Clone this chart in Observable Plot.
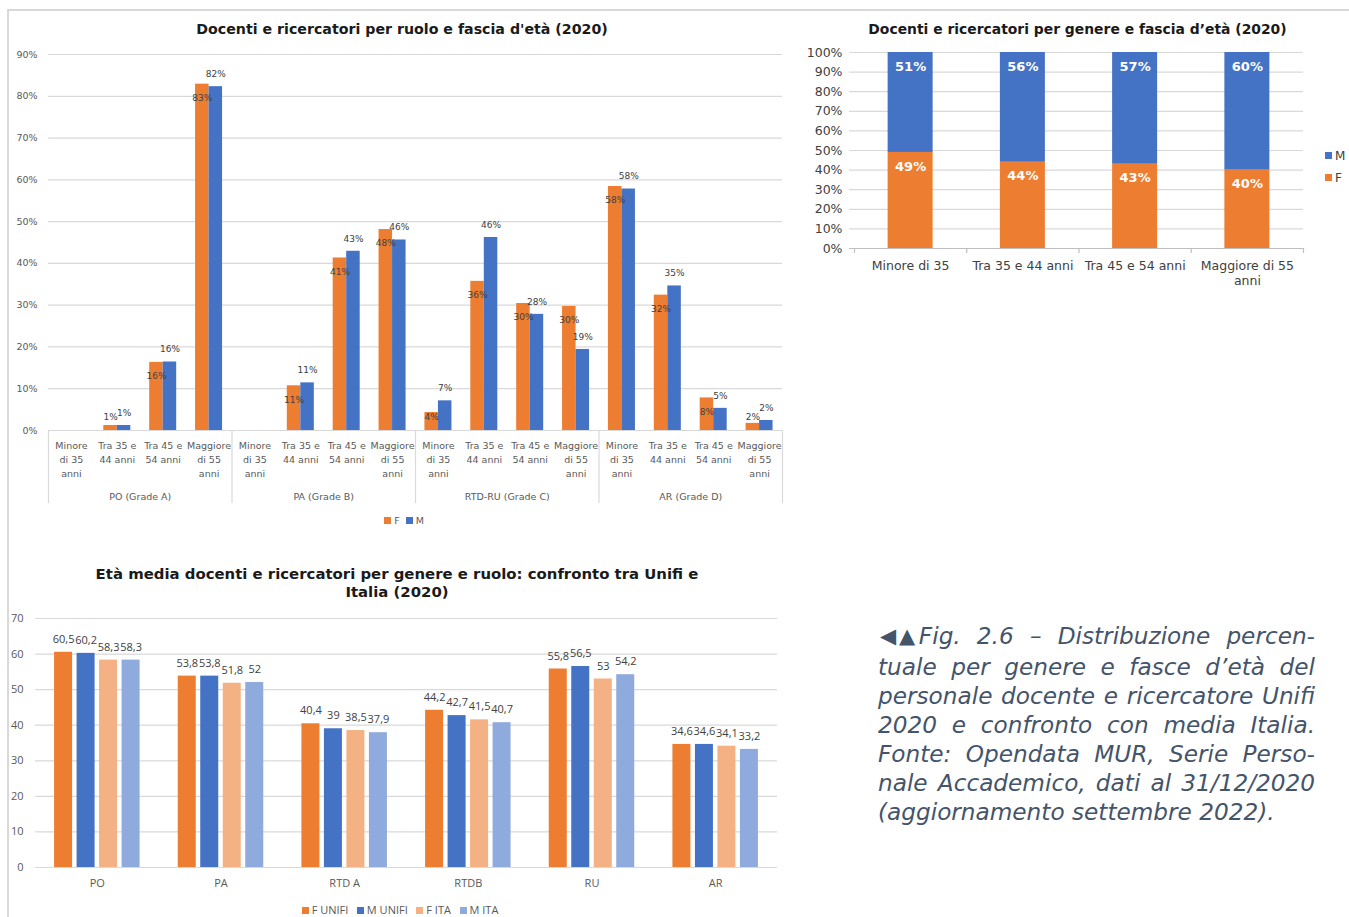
<!DOCTYPE html>
<html><head><meta charset="utf-8">
<script src="https://cdn.jsdelivr.net/npm/d3@7"></script>
<script src="https://cdn.jsdelivr.net/npm/@observablehq/plot@0.6"></script>
<style>
body{margin:0;background:#fff;font-family:"DejaVu Sans",sans-serif;}
#page{position:relative;width:1349px;height:917px;overflow:hidden;background:#fff;}
.abs{position:absolute;}
.title{font-family:"DejaVu Sans";font-weight:bold;color:#1a1a1a;text-align:center;white-space:nowrap;}
.leg{font-family:"DejaVu Sans";color:#595959;white-space:nowrap;}
.sq{display:inline-block;width:7px;height:7px;margin-right:3px;vertical-align:middle;position:relative;top:-1px;}
.cap{font-family:"DejaVu Sans";font-style:italic;color:#44546A;font-size:23.2px;line-height:29px;width:437px;}
.cap div{text-align:justify;text-align-last:justify;white-space:nowrap;}
.cap div.last{text-align-last:left;}
.arr{font-style:normal;font-size:21px;letter-spacing:-6px;position:relative;top:-1px;margin-left:2px;margin-right:1px;}
svg{overflow:visible;}
</style></head><body><div id="page">
<div class="abs" style="left:7px;top:9px;width:1342px;height:2px;background:#d9d9d9"></div>
<div class="abs" style="left:7px;top:9px;width:2px;height:908px;background:#d9d9d9"></div>
<div class="abs title" style="left:0;top:20px;width:804px;font-size:14.2px;line-height:18px">Docenti e ricercatori per ruolo e fascia d'età (2020)</div>
<div class="abs title" style="left:805px;top:20px;width:545px;font-size:13.9px;line-height:18px">Docenti e ricercatori per genere e fascia d’età (2020)</div>
<div class="abs title" style="left:0;top:565px;width:794px;font-size:14.9px;line-height:18px">Età media docenti e ricercatori per genere e ruolo: confronto tra Unifi e<br>Italia (2020)</div>
<div id="c1" class="abs" style="left:0;top:40px;width:790px"></div>
<div id="c2" class="abs" style="left:790px;top:40px;width:559px"></div>
<div id="c3" class="abs" style="left:0;top:605px;width:790px"></div>
<div id="leg1" class="abs leg" style="left:0;top:514px;width:808px;text-align:center;font-size:9.5px;line-height:14px"></div>
<div id="leg2" class="abs leg" style="left:1325px;top:145px;font-size:12px;line-height:22px;color:#404040"></div>
<div id="leg3" class="abs leg" style="left:0;top:902px;width:800px;text-align:center;font-size:11px;line-height:15px;font-family:'Open Sans'"></div>
<div class="abs cap" style="left:878px;top:621px">
<div><span class="arr">◀▲</span>Fig. 2.6 – Distribuzione percen-</div>
<div>tuale per genere e fasce d’età del</div>
<div>personale docente e ricercatore Unifi</div>
<div>2020 e confronto con media Italia.</div>
<div>Fonte: Opendata MUR, Serie Perso-</div>
<div>nale Accademico, dati al 31/12/2020</div>
<div class="last">(aggiornamento settembre 2022).</div>
</div>
</div>
<script>
// ---------- DATA ----------
// Chart 1: per ruolo e fascia d'età (% within role)
const roles1 = ["PO (Grade A)", "PA (Grade B)", "RTD-RU (Grade C)", "AR (Grade D)"];
const ages1 = ["Minore\ndi 35\nanni", "Tra 35 e\n44 anni", "Tra 45 e\n54 anni", "Maggiore\ndi 55\nanni"];
const roleF = [0, 1.2, 16.3, 82.9, 0, 10.7, 41.3, 48.1, 4.3, 35.7, 30.4, 29.7, 58.4, 32.4, 7.8, 1.7];
const roleM = [0, 1.2, 16.4, 82.3, 0, 11.4, 42.9, 45.6, 7.1, 46.2, 27.8, 19.4, 57.8, 34.6, 5.3, 2.4];
const yTicks1 = [0, 10, 20, 30, 40, 50, 60, 70, 80, 90];

// Chart 2: per genere e fascia d'età (stacked 100%)
const ages2 = ["Minore di 35", "Tra 35 e 44 anni", "Tra 45 e 54 anni", "Maggiore di 55\nanni"];
const genderF2 = [49, 44, 43, 40];
const genderM2 = [51, 56, 57, 60];
const yTicks2 = [0, 10, 20, 30, 40, 50, 60, 70, 80, 90, 100];

// Chart 3: età media
const roles3 = ["PO", "PA", "RTD A", "RTDB", "RU", "AR"];
const series3 = ["F UNIFI", "M UNIFI", "F ITA", "M ITA"];
const fUnifi = [60.5, 53.8, 40.4, 44.2, 55.8, 34.6];
const mUnifi = [60.2, 53.8, 39, 42.7, 56.5, 34.6];
const fIta = [58.3, 51.8, 38.5, 41.5, 53, 34.1];
const mIta = [58.3, 52, 37.9, 40.7, 54.2, 33.2];
const yTicks3 = [0, 10, 20, 30, 40, 50, 60, 70];

// ---------- STYLE ----------
const orange = "#ED7D31", blue = "#4472C4", lOrange = "#F4B183", lBlue = "#8FAADC";
const grid = "#d9d9d9";

// ---------- CHART 1 ----------
const rows1 = [];
roles1.forEach((r, i) => ages1.forEach((a, j) => rows1.push({key: i * 4 + j, role: r, age: a, F: roleF[i * 4 + j], M: roleM[i * 4 + j]})));
const keys1 = rows1.map(d => d.key);
const w1 = 790, ml1 = 48, mr1 = 8;
const bw1 = (w1 - ml1 - mr1) / keys1.length, half1 = bw1 / 2, barW1 = 13.5;
const chart1 = Plot.plot({
  width: w1, height: 470, marginLeft: ml1, marginRight: mr1, marginTop: 14, marginBottom: 80,
  style: {fontFamily: "DejaVu Sans", background: "transparent", overflow: "visible"},
  x: {type: "band", domain: keys1, padding: 0, round: false, axis: null},
  y: {domain: [0, 90], axis: null},
  marks: [
    Plot.ruleY(yTicks1.slice(1), {stroke: grid, strokeWidth: 1.2}),
    Plot.axisY(yTicks1, {label: null, tickSize: 0, tickPadding: 11, tickFormat: d => d + "%", fill: "#595959", fontSize: 9.5}),
    Plot.ruleY([0], {stroke: grid, strokeWidth: 1.2}),
    Plot.ruleX(rows1.filter(d => d.key % 4 === 0), {x: "key", y1: 0, y2: -17.5, dx: -half1, stroke: grid, strokeWidth: 1.2}),
    Plot.ruleX(rows1.slice(-1), {x: "key", y1: 0, y2: -17.5, dx: half1, stroke: grid, strokeWidth: 1.2}),
    Plot.barY(rows1, {x: "key", y: "F", fill: orange, insetLeft: half1 - barW1, insetRight: half1}),
    Plot.barY(rows1, {x: "key", y: "M", fill: blue, insetLeft: half1, insetRight: half1 - barW1}),
    Plot.text(rows1.filter(d => d.F > 0), {x: "key", y: d => Math.max(d.F - 3.35, 3.27), dx: -barW1 / 2, text: d => Math.round(d.F) + "%", fill: "#404040", fontSize: 9}),
    Plot.text(rows1.filter(d => d.M > 0), {x: "key", y: "M", dy: -12.5, dx: barW1 / 2, text: d => Math.round(d.M) + "%", fill: "#404040", fontSize: 9}),
    Plot.text(rows1, {x: "key", y: 0, dy: 8, lineAnchor: "top", lineHeight: 1.5, text: "age", fill: "#595959", fontSize: 9.5}),
    Plot.text(rows1.filter(d => d.key % 4 === 1), {x: "key", y: 0, dx: half1, dy: 66, text: "role", fill: "#595959", fontSize: 9.5})
  ]
});
document.getElementById("c1").appendChild(chart1);
document.getElementById("leg1").innerHTML =
  `<span class="sq" style="background:${orange}"></span>F&nbsp;&nbsp;<span class="sq" style="background:${blue}"></span>M`;

// ---------- CHART 2 ----------
const rows2 = [
  ...ages2.map((a, i) => ({age: a, gender: "F", value: genderF2[i]})),
  ...ages2.map((a, i) => ({age: a, gender: "M", value: genderM2[i]}))
];
const w2 = 559, ml2 = 64, mr2 = 46;
const bw2 = (w2 - ml2 - mr2) / ages2.length, barW2 = 45, inset2 = (bw2 - barW2) / 2;
const chart2 = Plot.plot({
  width: w2, height: 250, marginLeft: ml2, marginRight: mr2, marginTop: 12, marginBottom: 42,
  style: {fontFamily: "DejaVu Sans", background: "transparent", overflow: "visible"},
  x: {type: "band", domain: ages2, padding: 0, round: false, axis: null},
  y: {domain: [0, 100], axis: null},
  color: {domain: ["F", "M"], range: [orange, blue]},
  marks: [
    Plot.ruleY(yTicks2.slice(1), {stroke: grid, strokeWidth: 1.2, insetLeft: -5}),
    Plot.ruleY([0], {stroke: "#bfbfbf", strokeWidth: 1.2, insetLeft: -5}),
    Plot.axisY(yTicks2, {label: null, tickSize: 0, tickPadding: 12, tickFormat: d => d + "%", fill: "#404040", fontSize: 12.5}),
    Plot.ruleX(ages2, {x: d => d, y1: 0, y2: -2.5, dx: -bw2 / 2, stroke: "#bfbfbf", strokeWidth: 1.2}),
    Plot.ruleX(ages2.slice(-1), {x: d => d, y1: 0, y2: -2.5, dx: bw2 / 2, stroke: "#bfbfbf", strokeWidth: 1.2}),
    Plot.barY(rows2, {x: "age", y: "value", fill: "gender", z: "gender", order: ["F", "M"], insetLeft: inset2, insetRight: inset2}),
    Plot.text(rows2, Plot.stackY2({x: "age", y: "value", z: "gender", order: ["F", "M"], text: d => d.value + "%", dy: 14, fill: "white", fontWeight: "bold", fontSize: 13})),
    Plot.text(ages2, {x: d => d, y: 0, dy: 10, lineAnchor: "top", lineHeight: 1.24, text: d => d, fill: "#404040", fontSize: 12.5})
  ]
});
document.getElementById("c2").appendChild(chart2);
document.getElementById("leg2").innerHTML =
  `<div><span class="sq" style="background:${blue}"></span>M</div><div><span class="sq" style="background:${orange}"></span>F</div>`;

// ---------- CHART 3 ----------
const vals3 = [fUnifi, mUnifi, fIta, mIta];
const cols3 = [orange, blue, lOrange, lBlue];
const rows3 = [];
series3.forEach((s, k) => roles3.forEach((r, i) => rows3.push({role: r, series: s, k, value: vals3[k][i]})));
const w3 = 790, ml3 = 35, mr3 = 13;
const bw3 = (w3 - ml3 - mr3) / roles3.length, barW3 = 18, step3 = 22.5;
const off3 = (bw3 - (step3 * 3 + barW3)) / 2;
const chart3 = Plot.plot({
  width: w3, height: 290, marginLeft: ml3, marginRight: mr3, marginTop: 13, marginBottom: 28,
  style: {fontFamily: "Open Sans", background: "transparent", overflow: "visible"},
  x: {type: "band", domain: roles3, padding: 0, round: false, axis: null},
  y: {domain: [0, 70], axis: null},
  marks: [
    Plot.ruleY(yTicks3, {stroke: grid, strokeWidth: 1.2}),
    Plot.axisY(yTicks3, {label: null, tickSize: 0, tickPadding: 12, fill: "#595959", fontSize: 11}),
    ...series3.map((s, k) => Plot.barY(rows3.filter(d => d.k === k), {
      x: "role", y: "value", fill: cols3[k],
      insetLeft: off3 + step3 * k, insetRight: bw3 - off3 - step3 * k - barW3
    })),
    ...series3.map((s, k) => Plot.text(rows3.filter(d => d.k === k), {
      x: "role", y: "value", dy: -13, dx: off3 + step3 * k + barW3 / 2 - bw3 / 2,
      text: d => String(d.value).replace(".", ","), fill: "#404040", fontSize: 11
    })),
    Plot.text(roles3, {x: d => d, y: 0, dy: 16, text: d => d, fill: "#595959", fontSize: 11})
  ]
});
document.getElementById("c3").appendChild(chart3);
document.getElementById("leg3").innerHTML = series3.map((s, k) =>
  `<span class="sq" style="background:${cols3[k]}"></span>${s}`).join("&nbsp;&nbsp;&nbsp;");
</script>
</body></html>
